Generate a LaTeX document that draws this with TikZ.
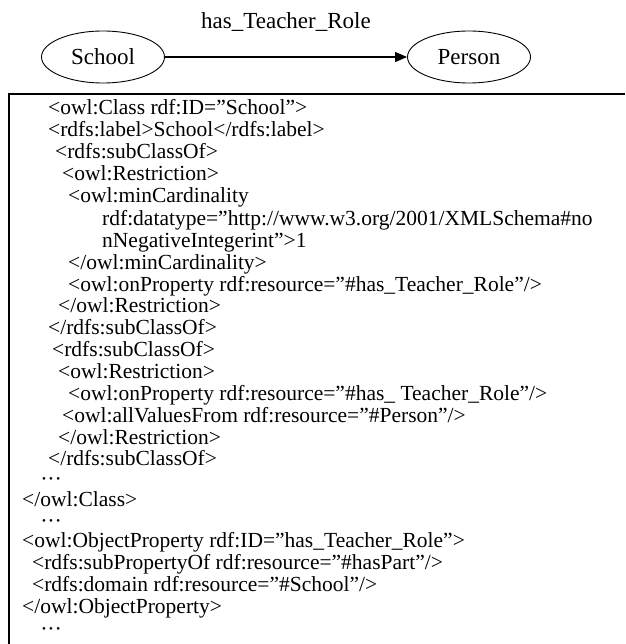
\documentclass[tikz,border=0pt]{standalone}
\usepackage{fontspec}
\setmainfont{Liberation Serif}
\usetikzlibrary{shapes.geometric,arrows.meta}
\tikzset{
  cls/.style={draw, ellipse, line width=0.9pt, minimum width=123pt, minimum height=52pt, inner sep=0pt, font=\fontsize{23}{26}\selectfont},
  rel/.style={line width=1.1pt, -{Triangle[length=12pt,width=10pt]}},
  code/.style={anchor=base west, inner sep=0pt, font=\fontsize{21.5}{24}\selectfont},
  dotline/.style={anchor=base west, inner sep=0pt, font=\fontsize{11}{12}\selectfont},
  frame/.style={line width=1.5pt},
}
\newcommand{\dts}{•\hspace{3.2pt}•\hspace{3.2pt}•}
\begin{document}
\begin{tikzpicture}[x=1pt,y=-1pt]
\useasboundingbox (0,0) rectangle (625,644);
\node[cls] (school) at (103,57) {School};
\node[cls] (person) at (469,57) {Person};
\draw[rel] (school) -- (person);
\node[font=\fontsize{23}{26}\selectfont, inner sep=0pt] (lbl) at (286,22) {has\_Teacher\_Role};
\coordinate (tl) at (9,94);
\coordinate (tr) at (625,94);
\coordinate (bl) at (9,644);
\draw[frame] (tr) -- (tl) -- (bl);
\node[code] (l1) at (48,115) {<owl:Class rdf:ID="School">};
\node[code] (l2) at (48,137) {<rdfs:label>School</rdfs:label>};
\node[code] (l3) at (55,159) {<rdfs:subClassOf>};
\node[code] (l4) at (62,181) {<owl:Restriction>};
\node[code] (l5) at (68,203) {<owl:minCardinality};
\node[code] (l6) at (102,225) {rdf:datatype="http://www.w3.org/2001/XMLSchema\#no};
\node[code] (l7) at (102,247) {nNegativeIntegerint">1};
\node[code] (l8) at (68,269) {</owl:minCardinality>};
\node[code] (l9) at (68,291) {<owl:onProperty rdf:resource="\#has\_Teacher\_Role"/>};
\node[code] (l10) at (58,312) {</owl:Restriction>};
\node[code] (l11) at (48,334) {</rdfs:subClassOf>};
\node[code] (l12) at (52,356) {<rdfs:subClassOf>};
\node[code] (l13) at (58,378) {<owl:Restriction>};
\node[code] (l14) at (68,400) {<owl:onProperty rdf:resource="\#has\_ Teacher\_Role"/>};
\node[code] (l15) at (62,422) {<owl:allValuesFrom rdf:resource="\#Person"/>};
\node[code] (l16) at (58,444) {</owl:Restriction>};
\node[code] (l17) at (48,465) {</rdfs:subClassOf>};
\node[dotline] (l18) at (42,482) {\dts};
\node[code] (l19) at (22,506) {</owl:Class>};
\node[dotline] (l20) at (42,524) {\dts};
\node[code] (l21) at (22,547) {<owl:ObjectProperty rdf:ID="has\_Teacher\_Role">};
\node[code] (l22) at (32,569) {<rdfs:subPropertyOf rdf:resource="\#hasPart"/>};
\node[code] (l23) at (32,591) {<rdfs:domain rdf:resource="\#School"/>};
\node[code] (l24) at (22,613) {</owl:ObjectProperty>};
\node[dotline] (l25) at (42,632) {\dts};
\end{tikzpicture}
\end{document}
